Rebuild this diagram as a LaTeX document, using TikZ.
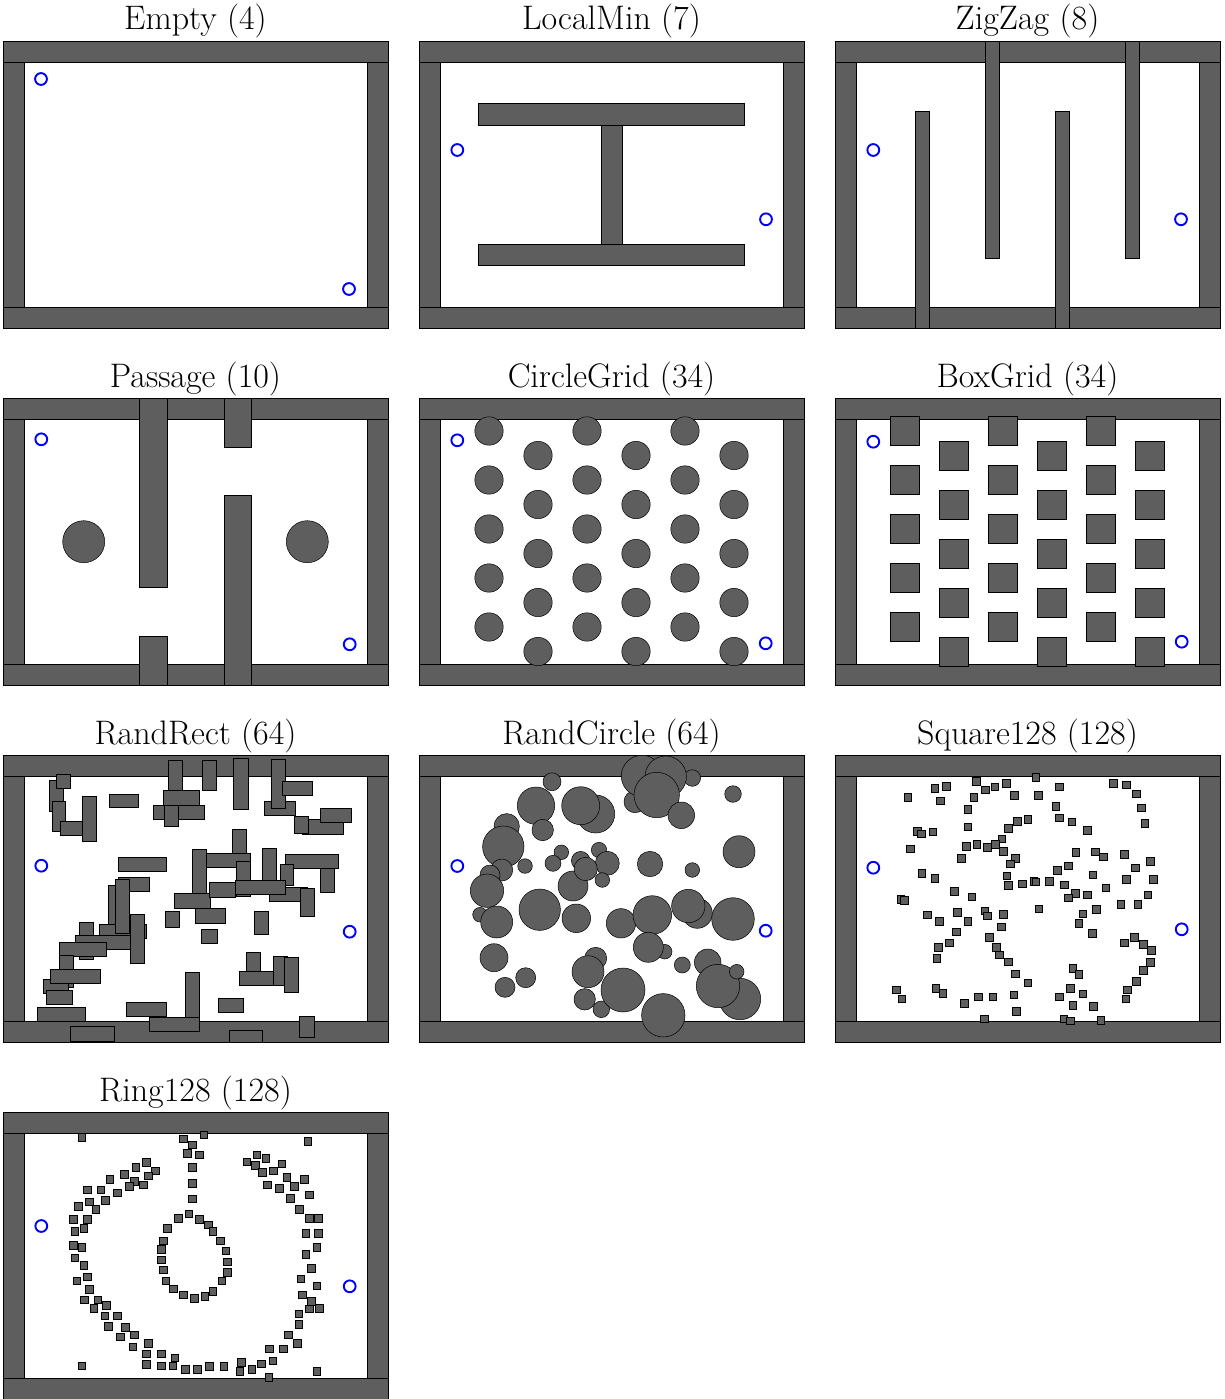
\documentclass[tikz,border=0pt]{standalone}
\usepackage{fontspec}
\setmainfont{Latin Modern Roman}
\definecolor{obsgray}{RGB}{94,94,94}
\tikzset{
  obs/.style={fill=obsgray, draw=black, line width=0.5pt},
  sg/.style={draw=blue, line width=1.9pt, fill=none},
  ttl/.style={anchor=base, font=\fontsize{34}{40}\selectfont, inner sep=0pt}
}
\newcommand\envpanel[4]{%
  \node[ttl] (#1) at (#2+192.5,#3-11) {#4};
  \begin{scope}[shift={(#2,#3)}]
    \draw[obs] (0,0) rectangle (385,21);
    \draw[obs] (0,266.3) rectangle (385,287);
    \draw[obs] (0,21) rectangle (21.7,266.3);
    \draw[obs] (364.3,21) rectangle (385,266.3);
  \end{scope}}
\newcommand\startgoal[6]{%
  \begin{scope}[shift={(#1,#2)}]
    \draw[sg] (#3,#4) circle[radius=5.9];
    \draw[sg] (#5,#6) circle[radius=5.9];
  \end{scope}}
\begin{document}
\begin{tikzpicture}[x=1pt,y=-1pt]
\useasboundingbox (0,0) rectangle (1225,1399);

% ---------------- Row 1 ----------------
\envpanel{t1}{3}{41}{Empty (4)}
\startgoal{3}{41}{38}{38}{346}{248}

\envpanel{t2}{419}{41}{LocalMin (7)}
\begin{scope}[shift={(419,41)}]
  \draw[obs] (182.4,84.3) rectangle (202.9,203);
  \draw[obs] (59.3,62.7) rectangle (325.5,84.3);
  \draw[obs] (59.3,203) rectangle (325.5,224.7);
\end{scope}
\startgoal{419}{41}{38.3}{109}{347}{178.3}

\envpanel{t3}{835}{41}{ZigZag (8)}
\begin{scope}[shift={(835,41)}]
  \draw[obs] (80.5,70.3) rectangle (94,287);
  \draw[obs] (150.5,0) rectangle (164,217.3);
  \draw[obs] (220.7,70.3) rectangle (234.2,287);
  \draw[obs] (290.5,0) rectangle (304,217.3);
\end{scope}
\startgoal{835}{41}{38.3}{109}{346}{178.3}

% ---------------- Row 2 ----------------
\envpanel{t4}{3}{398}{Passage (10)}
\begin{scope}[shift={(3,398)}]
  \draw[obs] (136.7,0) rectangle (164.7,189);
  \draw[obs] (136.7,238.3) rectangle (164.7,287);
  \draw[obs] (221,0) rectangle (248.7,49.3);
  \draw[obs] (221,97.7) rectangle (248.7,287);
  \draw[obs] (80.7,143.7) circle[radius=21];
  \draw[obs] (304.3,143.7) circle[radius=21];
\end{scope}
\startgoal{3}{398}{38.3}{41.3}{346.7}{246.3}

\envpanel{t5}{419}{398}{CircleGrid (34)}
\begin{scope}[shift={(419,398)}]
  \foreach \k/\o in {1/0,2/1,3/0,4/1,5/0,6/1}
    \foreach \j in {0,...,4}
      \draw[obs] (21+49*\k, 33+24.5*\o+49*\j) circle[radius=14.2];
\end{scope}
\startgoal{419}{398}{38.3}{42.3}{346.7}{245.3}

\envpanel{t6}{835}{398}{BoxGrid (34)}
\begin{scope}[shift={(835,398)}]
  \foreach \k/\o in {1/0,2/1,3/0,4/1,5/0,6/1}
    \foreach \j in {0,...,4}
      \draw[obs] (21+49*\k-14.35, 33+24.5*\o+49*\j-14.35) rectangle ++(28.7,28.7);
\end{scope}
\startgoal{835}{398}{38.3}{43.7}{346.7}{243.7}

% ---------------- Row 3 ----------------
\envpanel{t7}{3}{755}{RandRect (64)}
\begin{scope}[shift={(3,755)}]
  \foreach \a/\b/\c/\d in {
    46/60/25.7/56.7, 53.3/67.7/19/33.3, 49.3/62.7/46.7/76.7, 57/80/66/80,
    79.3/93.7/41.3/86, 106.7/135.7/39/52.7, 165.3/179.7/5.3/36,
    150.3/201.7/50.7/64.7, 160.3/196.7/35.7/50, 161/175.3/50/71.3,
    115.7/163.7/102/116, 115.7/146.7/122/136, 105.3/119.3/130/170,
    96/143.3/169/183.3, 112/126/124.3/178.7, 127.7/141.7/159.3/208.3,
    76/90/167.3/204, 72.7/127.7/180/194.3, 56.3/103.7/187/201.3,
    56.3/70.3/200/232.3, 40.3/65/224.3/238.3, 47.3/97.7/214.7/228.7,
    43.3/69.7/235.7/249.7, 34.3/82/252/266.3, 67/111.3/271.7/286.7,
    123.3/163.7/247.3/261.3, 182.3/196.7/217.3/263.3, 146/196.3/262.7/276.7,
    162/176.7/156/172.7, 189/203/94.3/139.3, 171.7/207.7/138.7/153.3,
    192.7/222.7/153.3/168.3, 198.3/214.3/174/188.3,
    199/213.3/5.3/35.7, 230.3/245/3.3/54.3, 261.3/292/46.7/60.7,
    268/282/4/53.3, 279.3/309/26.7/40.7, 299.3/340.3/64.7/79.3,
    291.3/305.3/61.7/78.3, 317.3/348.7/53.7/67.7, 229.3/243.7/74/107.7,
    203/247.3/98/112, 233.3/247.7/106.7/141.3, 259/273.7/93/126,
    282.7/335.7/99.3/113.7, 277/290.7/109/130.7, 317.7/331.7/113.3/137.3,
    206/232/127.7/142, 266.3/304/132.3/146.7, 232/282.7/125/139,
    297.3/311.7/133/161.7, 251/265.3/156.7/179, 243.3/257.7/197.7/216.7,
    236/270.3/216/230.3, 270.3/284/201/230, 281.3/295/202.3/237,
    215/240.3/243/257, 226.3/259.3/275.3/287, 296.7/311.7/261/282.3}
    \draw[obs] (\a,\c) rectangle (\b,\d);
\end{scope}
\startgoal{3}{755}{38.3}{110.7}{346.7}{176.7}

\envpanel{t8}{419}{755}{RandCircle (64)}
\begin{scope}[shift={(419,755)}]
  \foreach \x/\y/\r in {
    133/26.7/9, 117/50.7/18.7, 176.7/59/19, 161.7/50.7/19, 123.7/75/10.7,
    87.7/71.3/12.7, 84.3/91.7/20.7, 82.7/115/11, 71/120/10, 106/111/7.3,
    68/135.7/16.7, 61/159.7/7.3, 77.7/167/16, 120.7/154.7/20.7,
    142.3/97.3/7.3, 134/108.3/8, 154/131/15, 161.7/105.7/9.3,
    180/95/7.7, 188.3/108.3/12, 166.7/114/11.7, 183.3/125/7.3,
    157.3/163.3/14.3, 202/168.3/14.7, 231/109/12.7, 273.3/115/7.3,
    320/96.7/16, 314/39/8.3, 273.3/23/8.3, 216/46.7/11, 223/21/20.7,
    246.7/21.7/20.7, 237.7/40/22.7, 262.3/60.3/13.3,
    278.3/158.3/15, 233.3/160/19.3, 269.3/151/16.7, 314/164/21.3,
    245.7/196.7/7.3, 229.3/192.3/15, 75/202.7/14, 106.7/222.7/10,
    86/232.3/10, 176.7/203.3/11, 169/216.7/16, 165.7/244.3/10.7,
    182.3/254.3/8.3, 204/235/22, 244.3/260.3/21.7, 263.3/210/8,
    321/244/20.7, 288.7/207.3/13.3, 299/231/21.7, 317.7/216.7/7.3}
    \draw[obs] (\x,\y) circle[radius=\r];
\end{scope}
\startgoal{419}{755}{38.3}{111}{346.7}{175.7}

\envpanel{t9}{835}{755}{Square128 (128)}
\begin{scope}[shift={(835,755)}]
  \foreach \x/\y in {
    72.7/42, 99.7/33.3, 111/31, 105.3/45.7, 141.3/26, 150.3/34.7, 159.7/31.7,
    171/28.3, 179/40.3, 138.7/42, 132.7/54, 132.7/71.7, 182/66.3, 192.7/64.3,
    173.3/73.3, 166.7/83.7, 168/96.3, 160/89.3, 152/92.3, 141.7/89.3, 131/91,
    126/103.3, 180/103, 175/108.7, 171.7/120.7, 173.3/130, 187.3/128.7,
    198.7/126.3, 82/76.3, 86/78.7, 97.7/76.7, 75/93.7, 86.7/118, 99.7/123,
    119/136.3, 136.7/141.7, 65.7/144, 69/145, 92/159.7, 104/166.3,
    122.3/157.3, 132.7/166, 149.7/155.7, 152.3/160.7, 168/159.3, 166.3/171.7,
    121/176.7, 114/187.7, 154/182, 161.3/192, 164.3/199.7, 173.3/206.7,
    180/218.7, 192.7/227.7, 103/192.3, 101.7/203, 61.3/234.7, 66.7/243.7,
    100.7/233, 107.7/238.3, 143.3/241.7, 157.7/241.7, 178.7/239.7,
    129/248.3, 181.3/256, 149/263.7, 200.7/22,
    224.3/31.7, 203.3/40.3, 220.7/51, 224.3/62.7, 236.7/66.7, 252/75.3,
    278.3/28, 291/29.7, 301/38.7, 306.3/52.7, 309.7/68.3, 240.7/97,
    260.3/96.7, 268.3/101.7, 289.3/99.3, 233/110.7, 222.3/115.3, 300/112.7,
    315.3/106, 257.7/119.7, 291/124, 318.3/124.3, 200.7/126.7, 214/126,
    229/129.7, 240/138, 233/142.7, 252.3/139.7, 270.7/132.7, 312.7/139.7,
    285.7/149, 302.7/149, 203.7/153.7, 247.7/158.7, 261/154, 243.7/168.3,
    257.3/178.3, 289/187.7, 299.3/182, 308/189, 316/195.3, 315/207,
    308/215.3, 301.3/226, 292.3/234.7, 290.7/243.7, 237.7/213.3, 243.7/219,
    235/233, 247.7/238.7, 224.3/241.7, 237.7/250.3, 258/251.3, 228.7/263.7,
    235/265.7, 265.7/265}
    \draw[obs] (\x-3.8,\y-3.8) rectangle ++(7.6,7.6);
\end{scope}
\startgoal{835}{755}{38.3}{112.7}{346.7}{174.3}

% ---------------- Row 4 ----------------
\envpanel{t10}{3}{1112}{Ring128 (128)}
\begin{scope}[shift={(3,1112)}]
  \foreach \x/\y in {
    78.7/25.3, 180/26.7, 189/32.7, 184/41.3, 196/42.7, 200.7/22.7, 189/55,
    189/71, 189/86.7, 185.7/101.7, 175/106, 196/107.3, 164.3/116.3,
    160/128.7, 158.3/137.3, 158/147.7, 160/157.7, 162.7/168.7, 170/176.7,
    180.3/182.7, 191/186, 201.7/184, 143.3/50, 132.7/55, 152.3/58.7,
    145.3/63.7, 121.3/62, 131.3/69, 140.3/72.7, 126/74, 106.7/67.3,
    97.7/77.7, 84/77.7, 114/80.7, 102/88.3, 86/89.7, 75/94.3, 92.7/97,
    70/107.3, 84/107.3, 71.7/119.3, 80.7/116.3, 70/133.3, 78.7/135.3,
    71.7/145.7, 80.7/153, 84/164.7, 73.7/168.7, 86/177, 81/187.7,
    94.7/187.7, 103/193, 90.7/196, 101.7/203.7, 114/203.7, 105/214,
    122.3/215.3, 131.3/222.7, 117.3/224.7, 145.3/231.3, 129.7/234.7,
    143.3/241.7, 158/241.7, 171.7/245.7, 143.3/252.3, 158/253.7,
    169.7/253.7, 182/257.3, 194.3/257.3, 78.7/253.7,
    205/112.7, 209.7/119.3, 217.3/128.7, 222.7/138.7, 224.3/149.7,
    224.3/160, 218.7/168.7, 209.7/179, 304.7/29, 253.7/42.7, 262.7/46,
    243.7/49.7, 252/53.3, 278.7/51.7, 259/60.3, 270/58.7, 283.7/65.3,
    301/67.3, 264/72.7, 276.3/76, 291/74, 287/86.3, 306.3/82.7, 296/97,
    306.3/106, 315.3/106.3, 302.7/121.3, 315.3/121.3, 313.7/135.3,
    302.7/142.3, 308/156.3, 297.7/166.7, 313.7/173.7, 299.3/182.7,
    308/189.3, 306/196.7, 316.3/196, 295.7/201.7, 295.7/212, 285/222.7,
    294.3/231.3, 266/236.7, 280.3/236.7, 269.7/248.7, 258/251.7,
    238/250.3, 248.7/257.3, 236.7/259, 220.7/254, 206.3/254, 265.7/265,
    313.7/259}
    \draw[obs] (\x-3.8,\y-3.8) rectangle ++(7.6,7.6);
\end{scope}
\startgoal{3}{1112}{38.3}{114}{346.7}{174.3}
\end{tikzpicture}
\end{document}
